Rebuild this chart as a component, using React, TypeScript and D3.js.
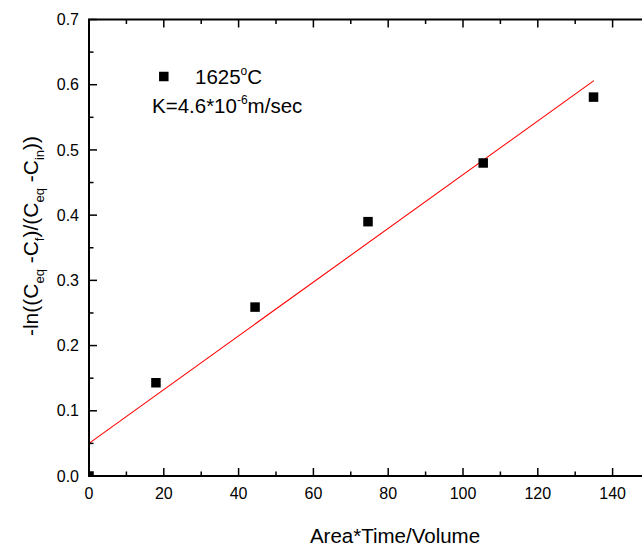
import React from "react";
import * as d3 from "d3";

const xValues = [0, 17.9, 44.4, 74.6, 105.4, 134.9];
const yValues = [0, 0.143, 0.259, 0.39, 0.48, 0.581];
const fitIntercept = 0.0501;
const fitSlope = 0.00412;
const fitRange = [0, 135];
const xMajorTicks = [0, 20, 40, 60, 80, 100, 120, 140];
const xMinorTicks = [10, 30, 50, 70, 90, 110, 130, 150];
const yMajorTicks = [0, 0.1, 0.2, 0.3, 0.4, 0.5, 0.6, 0.7];
const yMinorTicks = [0.05, 0.15, 0.25, 0.35, 0.45, 0.55, 0.65];

const W = 642;
const H = 549;
const left = 89;
const right = 650;
const top = 19.5;
const bottom = 476;
const FONT = "'Liberation Sans', Arial, Helvetica, sans-serif";

export default function App() {
  const x = d3.scaleLinear().domain([0, 150]).range([left, right]);
  const y = d3.scaleLinear().domain([0, 0.7]).range([bottom, top]);
  const fitLine = d3
    .line<number>()
    .x((d) => x(d))
    .y((d) => y(fitIntercept + fitSlope * d));
  const ms = 9.5;
  const major = 8;
  const minor = 4.5;
  return (
    <svg
      width={W}
      height={H}
      style={{ position: "absolute", left: 0, top: 0, background: "#fff" }}
      fontFamily={FONT}
    >
      <defs>
        <clipPath id="plotClip">
          <rect x={left} y={top} width={right - left} height={bottom - top} />
        </clipPath>
      </defs>
      <rect x={0} y={0} width={W} height={H} fill="#fff" />
      {/* fit line */}
      <path d={fitLine(fitRange) || ""} stroke="#ff0000" strokeWidth={1.1} fill="none" />
      {/* points */}
      <g clipPath="url(#plotClip)">
        {xValues.map((v, i) => (
          <rect
            key={i}
            x={x(v) - ms / 2}
            y={y(yValues[i]) - ms / 2}
            width={ms}
            height={ms}
            fill="#000"
          />
        ))}
      </g>
      {/* frame */}
      <rect x={left} y={top} width={right - left} height={bottom - top} fill="none" stroke="#000" strokeWidth={2} />
      {/* x ticks bottom & top */}
      {xMajorTicks.map((t) => (
        <g key={"xm" + t}>
          <line x1={x(t)} x2={x(t)} y1={bottom} y2={bottom - major} stroke="#000" strokeWidth={1.5} />
          <line x1={x(t)} x2={x(t)} y1={top} y2={top + major} stroke="#000" strokeWidth={1.5} />
          <text x={x(t)} y={499} textAnchor="middle" fontSize={16} fill="#000">
            {t}
          </text>
        </g>
      ))}
      {xMinorTicks.map((t) => (
        <g key={"xn" + t}>
          <line x1={x(t)} x2={x(t)} y1={bottom} y2={bottom - minor} stroke="#000" strokeWidth={1.5} />
          <line x1={x(t)} x2={x(t)} y1={top} y2={top + minor} stroke="#000" strokeWidth={1.5} />
        </g>
      ))}
      {/* y ticks left & right */}
      {yMajorTicks.map((t) => (
        <g key={"ym" + t}>
          <line x1={left} x2={left + major} y1={y(t)} y2={y(t)} stroke="#000" strokeWidth={1.5} />
          <line x1={right} x2={right - major} y1={y(t)} y2={y(t)} stroke="#000" strokeWidth={1.5} />
          <text x={79} y={y(t) + 5.7} textAnchor="end" fontSize={16} fill="#000">
            {t.toFixed(1)}
          </text>
        </g>
      ))}
      {yMinorTicks.map((t) => (
        <g key={"yn" + t}>
          <line x1={left} x2={left + minor} y1={y(t)} y2={y(t)} stroke="#000" strokeWidth={1.5} />
          <line x1={right} x2={right - minor} y1={y(t)} y2={y(t)} stroke="#000" strokeWidth={1.5} />
        </g>
      ))}
      {/* legend */}
      <rect x={163.8 - ms / 2} y={76.5 - ms / 2} width={ms} height={ms} fill="#000" />
      <text x={195} y={84} fontSize={20.5} fill="#000">
        1625
        <tspan fontSize={12} dy={-9}>o</tspan>
        <tspan dy={9}>C</tspan>
      </text>
      <text x={152} y={113} fontSize={20.5} fill="#000">
        K=4.6*10
        <tspan fontSize={12} dy={-9}>-6</tspan>
        <tspan dy={9}>m/sec</tspan>
      </text>
      {/* axis titles */}
      <text x={395} y={543} textAnchor="middle" fontSize={20.5} fill="#000">
        Area*Time/Volume
      </text>
      <text
        transform={`translate(38, 236) rotate(-90)`}
        textAnchor="middle"
        fontSize={21}
        fill="#000"
      >
        -ln((C
        <tspan fontSize={13} dy={6}>eq</tspan>
        <tspan dy={-6}> -C</tspan>
        <tspan fontSize={13} dy={6}>f</tspan>
        <tspan dy={-6}>)/(C</tspan>
        <tspan fontSize={13} dy={6}>eq</tspan>
        <tspan dy={-6}> -C</tspan>
        <tspan fontSize={13} dy={6}>in</tspan>
        <tspan dy={-6}>))</tspan>
      </text>
    </svg>
  );
}
